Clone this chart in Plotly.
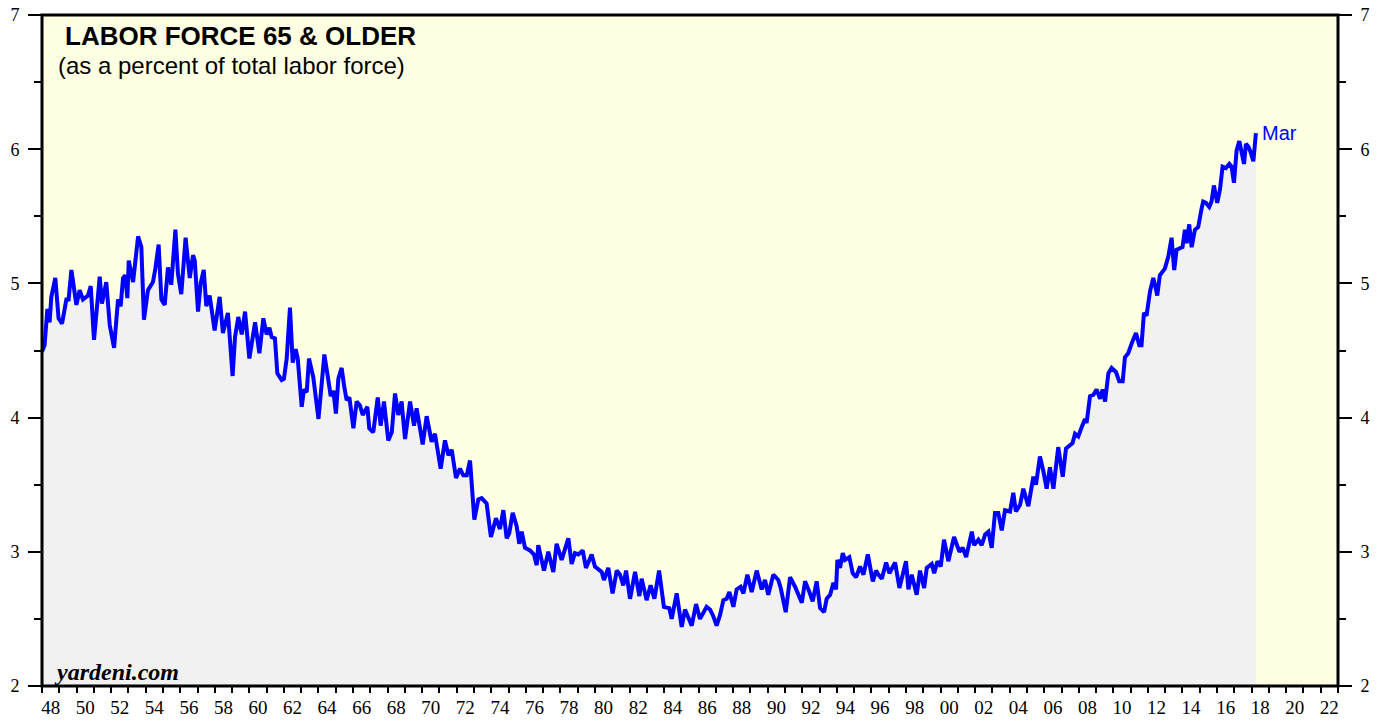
import plotly.graph_objects as go

# Decimal-year positions of the readings and the share (% of total labor force)
dates = [
    1948.00, 1948.15, 1948.31, 1948.44, 1948.54, 1948.77, 1948.96, 1949.16, 1949.41, 1949.54,
    1949.70, 1949.99, 1950.18, 1950.37, 1950.66, 1950.82, 1951.01, 1951.34, 1951.47, 1951.72,
    1951.92, 1952.17, 1952.40, 1952.55, 1952.69, 1952.82, 1952.94, 1953.02, 1953.27, 1953.56,
    1953.75, 1953.90, 1954.13, 1954.42, 1954.56, 1954.75, 1954.91, 1955.10, 1955.29, 1955.48,
    1955.72, 1955.87, 1956.06, 1956.31, 1956.55, 1956.74, 1956.84, 1957.03, 1957.18, 1957.36,
    1957.51, 1957.70, 1957.99, 1958.28, 1958.47, 1958.76,
    1959.03, 1959.17, 1959.36, 1959.56, 1959.75, 1960.00, 1960.33, 1960.58, 1960.81, 1961.00,
    1961.16, 1961.29, 1961.48, 1961.62, 1961.87, 1962.00, 1962.16, 1962.35, 1962.51, 1962.68,
    1962.80, 1963.03, 1963.16, 1963.32, 1963.45, 1963.61, 1963.70, 1964.00, 1964.18, 1964.34,
    1964.51, 1964.71, 1964.86, 1965.01, 1965.15, 1965.34, 1965.48, 1965.63, 1965.79, 1966.02,
    1966.21, 1966.40, 1966.56, 1966.83, 1966.94, 1967.17, 1967.43, 1967.60, 1967.79, 1968.04,
    1968.24, 1968.43, 1968.62, 1968.81, 1969.01, 1969.30, 1969.53, 1969.68,
    1970.03, 1970.26, 1970.55, 1970.74, 1971.07, 1971.32, 1971.52, 1971.71, 1971.96, 1972.19,
    1972.38, 1972.58, 1972.77, 1972.87, 1973.02, 1973.25, 1973.44, 1973.73, 1973.98, 1974.27,
    1974.50, 1974.70, 1974.89, 1975.04, 1975.24, 1975.47, 1975.62, 1975.76, 1975.95, 1976.24,
    1976.47, 1976.63, 1976.72, 1977.05, 1977.30, 1977.59, 1977.78, 1978.07, 1978.46, 1978.65,
    1978.84, 1979.04, 1979.29, 1979.48, 1979.81, 1980.00, 1980.39, 1980.52, 1980.77,
    1981.02, 1981.26, 1981.45, 1981.64, 1981.80, 1982.03, 1982.32, 1982.57, 1982.70, 1982.99,
    1983.22, 1983.44, 1983.71, 1983.99, 1984.30, 1984.44, 1984.73, 1985.02, 1985.21, 1985.60,
    1985.85, 1986.08, 1986.46, 1986.66, 1986.85, 1987.04, 1987.24, 1987.43, 1987.62, 1987.78,
    1988.01, 1988.20, 1988.43, 1988.59, 1988.82, 1989.07, 1989.36, 1989.65, 1989.84, 1990.03,
    1990.32, 1990.61, 1990.75, 1991.04, 1991.29, 1991.58,
    1991.97, 1992.16, 1992.41, 1992.60, 1992.83, 1993.03, 1993.26, 1993.41, 1993.61, 1993.80,
    1993.95, 1994.03, 1994.18, 1994.34, 1994.47, 1994.72, 1994.92, 1995.11, 1995.34, 1995.54,
    1995.79, 1996.08, 1996.27, 1996.40, 1996.60, 1996.85, 1997.04, 1997.37, 1997.62, 1997.75,
    1998.00, 1998.14, 1998.33, 1998.62, 1998.81, 1999.05, 1999.20, 1999.49, 1999.63, 1999.82,
    2000.01, 2000.20, 2000.45, 2000.78, 2001.09, 2001.28, 2001.48, 2001.81, 2001.94, 2002.19,
    2002.38, 2002.58, 2002.77,
    2002.96, 2003.15, 2003.34, 2003.54, 2003.73, 2004.02, 2004.21, 2004.36, 2004.60, 2004.79,
    2005.08, 2005.21, 2005.37, 2005.52, 2005.75, 2005.95, 2006.14, 2006.33, 2006.53, 2006.81,
    2007.07, 2007.26, 2007.49, 2007.64, 2007.78, 2007.97, 2008.17, 2008.36, 2008.45, 2008.65,
    2008.84, 2009.03, 2009.23, 2009.38, 2009.52, 2009.71, 2009.90, 2010.15, 2010.34, 2010.54,
    2010.67, 2010.86, 2011.11, 2011.31, 2011.50, 2011.63, 2011.77, 2011.92, 2012.12, 2012.31,
    2012.46, 2012.54, 2012.69, 2012.85, 2012.98, 2013.18, 2013.37, 2013.52, 2013.66, 2013.81,
    2014.00, 2014.14, 2014.24, 2014.39, 2014.53, 2014.72, 2014.91, 2015.11, 2015.20, 2015.36,
    2015.55, 2015.68, 2015.82, 2016.01, 2016.17, 2016.32, 2016.51, 2016.71, 2016.84, 2016.98,
    2017.13, 2017.29, 2017.42, 2017.56, 2017.67, 2017.81, 2017.94, 2018.10, 2018.25,
]

pct = [
    4.49, 4.54, 4.81, 4.71, 4.90, 5.04, 4.74, 4.70, 4.88, 4.88,
    5.10, 4.84, 4.95, 4.88, 4.91, 4.98, 4.58, 5.05, 4.85, 5.01,
    4.69, 4.52, 4.88, 4.83, 5.04, 5.06, 4.89, 5.17, 5.01, 5.35,
    5.27, 4.73, 4.95, 5.01, 5.11, 5.29, 4.88, 4.84, 5.12, 4.99,
    5.40, 5.07, 4.92, 5.34, 5.04, 5.21, 5.17, 4.79, 5.00, 5.10,
    4.83, 4.91, 4.65, 4.90, 4.63, 4.78,
    4.31, 4.60, 4.75, 4.62, 4.79, 4.44, 4.71, 4.48, 4.74, 4.62,
    4.67, 4.60, 4.59, 4.33, 4.28, 4.29, 4.44, 4.82, 4.41, 4.51,
    4.44, 4.08, 4.21, 4.19, 4.44, 4.33, 4.30, 3.99, 4.24, 4.47,
    4.33, 4.16, 4.20, 4.03, 4.29, 4.37, 4.24, 4.13, 4.15, 3.92,
    4.12, 4.09, 4.02, 4.08, 3.92, 3.89, 4.15, 3.94, 4.12, 3.83,
    3.89, 4.18, 4.02, 4.12, 3.84, 4.12, 3.94, 4.07,
    3.80, 4.01, 3.82, 3.88, 3.62, 3.83, 3.72, 3.76, 3.55, 3.62,
    3.57, 3.57, 3.68, 3.49, 3.24, 3.39, 3.40, 3.36, 3.11, 3.25,
    3.17, 3.31, 3.10, 3.14, 3.29, 3.19, 3.06, 3.15, 3.03, 3.01,
    2.98, 2.90, 3.05, 2.86, 3.00, 2.85, 3.06, 2.94, 3.10, 2.91,
    2.99, 2.98, 3.01, 2.88, 2.98, 2.89, 2.85, 2.79, 2.88,
    2.69, 2.86, 2.83, 2.75, 2.86, 2.65, 2.85, 2.67, 2.80, 2.64,
    2.75, 2.65, 2.86, 2.59, 2.58, 2.50, 2.69, 2.44, 2.57, 2.45,
    2.61, 2.50, 2.59, 2.57, 2.52, 2.45, 2.53, 2.64, 2.65, 2.70,
    2.59, 2.72, 2.74, 2.69, 2.83, 2.70, 2.86, 2.72, 2.79, 2.68,
    2.83, 2.79, 2.73, 2.55, 2.81, 2.74,
    2.62, 2.78, 2.70, 2.63, 2.78, 2.58, 2.55, 2.65, 2.68, 2.77,
    2.72, 2.94, 2.88, 2.99, 2.94, 2.96, 2.84, 2.81, 2.89, 2.83,
    2.98, 2.78, 2.86, 2.83, 2.80, 2.92, 2.84, 2.92, 2.73, 2.81,
    2.93, 2.72, 2.83, 2.68, 2.86, 2.73, 2.88, 2.91, 2.84, 2.93,
    2.89, 3.09, 2.93, 3.11, 3.00, 3.03, 2.96, 3.15, 3.05, 3.09,
    3.05, 3.13, 3.15,
    3.03, 3.29, 3.29, 3.16, 3.31, 3.30, 3.44, 3.30, 3.35, 3.47,
    3.34, 3.46, 3.56, 3.50, 3.71, 3.60, 3.47, 3.63, 3.47, 3.78,
    3.56, 3.77, 3.80, 3.81, 3.88, 3.86, 3.93, 3.99, 3.96, 4.16,
    4.17, 4.21, 4.14, 4.21, 4.12, 4.33, 4.37, 4.34, 4.27, 4.27,
    4.45, 4.48, 4.57, 4.63, 4.54, 4.54, 4.78, 4.76, 4.94, 5.04,
    4.96, 4.91, 5.06, 5.09, 5.11, 5.20, 5.34, 5.10, 5.25, 5.26,
    5.27, 5.40, 5.30, 5.44, 5.27, 5.40, 5.42, 5.56, 5.61, 5.60,
    5.57, 5.61, 5.73, 5.60, 5.70, 5.87, 5.86, 5.89, 5.87, 5.75,
    5.99, 6.06, 5.97, 5.89, 6.04, 6.02, 5.98, 5.91, 6.12,
]

year_ticks = list(range(1948, 2024))
label_years = list(range(1948, 2023, 2))
label_pos = [y + 0.5 for y in label_years]
label_text = [f"{y % 100:02d}" for y in label_years]
last_label = "Mar"

serif = "Liberation Serif, Times New Roman, serif"
sans = "Liberation Sans, Arial, Helvetica, sans-serif"

fig = go.Figure()
fig.add_trace(go.Scatter(
    x=dates, y=pct, mode="lines",
    line=dict(color="#0000FF", width=4),
    fill="tozeroy", fillcolor="#F1F1F1",
    hoverinfo="skip", showlegend=False,
))
fig.add_trace(go.Scatter(x=[None], y=[None], xaxis="x2", yaxis="y2",
                         showlegend=False, hoverinfo="skip"))

yax_common = dict(
    range=[2, 7], dtick=1, tick0=2, ticks="outside", ticklen=13, tickwidth=1.5,
    tickcolor="black", showgrid=False, zeroline=False, showline=False,
    tickfont=dict(family=serif, size=18, color="black"),
    minor=dict(dtick=0.5, ticks="outside", ticklen=7, tickwidth=1.5, tickcolor="black"),
    ticklabelstandoff=5, automargin=False, ticklabeloverflow="allow",
)

fig.update_layout(
    width=1376, height=713,
    margin=dict(l=34, r=46, t=7, b=35, autoexpand=False),
    paper_bgcolor="white", plot_bgcolor="#FFFFE3",
    showlegend=False,
    xaxis=dict(range=[1948, 2023], tickvals=year_ticks, ticks="outside", ticklen=6,
               tickwidth=2, tickcolor="black", showticklabels=False,
               showgrid=False, zeroline=False, showline=False, automargin=False),
    xaxis2=dict(range=[1948, 2023], overlaying="x", side="bottom", anchor="y",
                tickvals=label_pos, ticktext=label_text, ticks="outside", ticklen=4,
                tickcolor="rgba(0,0,0,0)", showgrid=False, zeroline=False, showline=False,
                tickfont=dict(family=serif, size=19, color="black"), automargin=False,
                ticklabeloverflow="allow"),
    yaxis=dict(side="left", **yax_common),
    yaxis2=dict(side="right", overlaying="y", anchor="x", **yax_common),
    shapes=[dict(type="rect", xref="paper", yref="paper", x0=0, x1=1, y0=0, y1=1,
                 line=dict(color="black", width=3), layer="above")],
    annotations=[
        dict(xref="paper", yref="paper", x=0.0165, y=0.9687, xanchor="left", yanchor="middle",
             text="<b>LABOR FORCE 65 &amp; OLDER</b>", showarrow=False,
             font=dict(family=sans, size=26, color="black")),
        dict(xref="paper", yref="paper", x=0.0105, y=0.924, xanchor="left", yanchor="middle",
             text="(as a percent of total labor force)", showarrow=False,
             font=dict(family=sans, size=24, color="black")),
        dict(xref="paper", yref="paper", x=0.008, y=0.021, xanchor="left", yanchor="middle",
             text="<b><i>yardeni.com</i></b>", showarrow=False,
             font=dict(family=serif, size=24, color="black")),
        dict(x=dates[-1], y=pct[-1], xref="x", yref="y", xanchor="left", yanchor="middle",
             xshift=4, text=last_label, showarrow=False,
             font=dict(family=sans, size=20, color="#0000FF")),
    ],
)

fig.write_html("out.html")
